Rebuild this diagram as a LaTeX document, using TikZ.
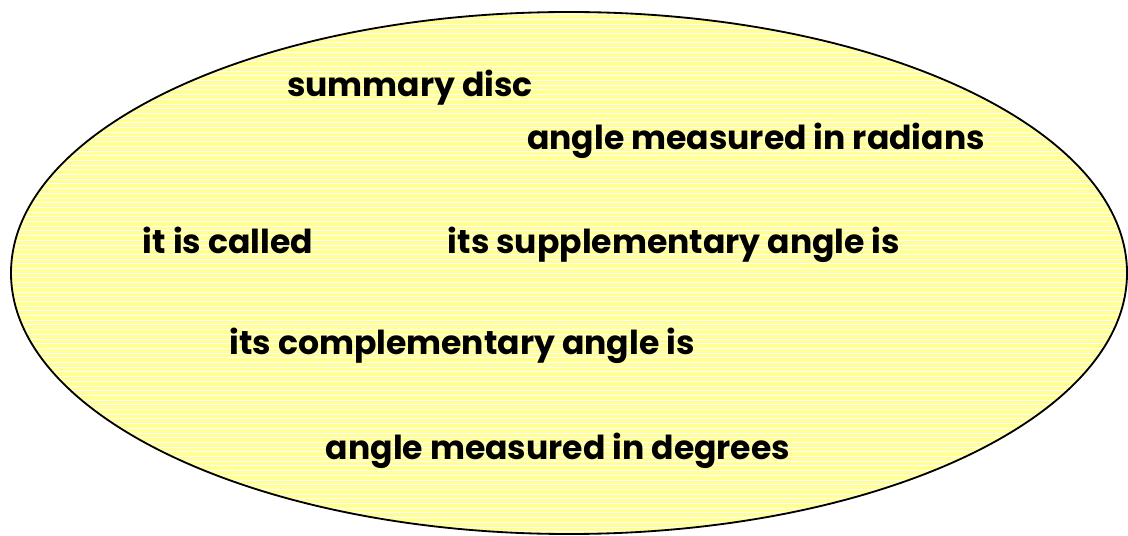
\documentclass[tikz,border=0pt]{standalone}
\usepackage{fontspec}
\setsansfont{Poppins}
\usepackage{tikz}
\definecolor{discyellow}{RGB}{255,255,150}

\begin{document}
\begin{tikzpicture}[
  x=0.025cm, y=-0.025cm,
  lbl/.style={font=\sffamily\bfseries\fontsize{23.5}{28}\selectfont, inner sep=0pt,
    anchor=base},
  stripe/.style={white, line width=0.7pt}
]
\useasboundingbox (0,0) rectangle (1128,536);
\fill[discyellow] (569,273) ellipse [x radius=558, y radius=261];
\begin{scope}
  \clip (569,273) ellipse [x radius=558, y radius=261];
  \foreach \y in {10,14.7,...,540} \draw[stripe] (0,\y) -- (1128,\y);
\end{scope}
\draw[line width=1.3pt] (569,273) ellipse [x radius=558, y radius=261];

\node[lbl] (disc) at (410,97) {summary disc};
\node[lbl] (rad) at (756,150) {angle measured in radians};
\node[lbl] (called) at (228,254) {it is called};
\node[lbl] (supp) at (674,254) {its supplementary angle is};
\node[lbl] (comp) at (462,355) {its complementary angle is};
\node[lbl] (deg) at (558,459) {angle measured in degrees};
\end{tikzpicture}
\end{document}
